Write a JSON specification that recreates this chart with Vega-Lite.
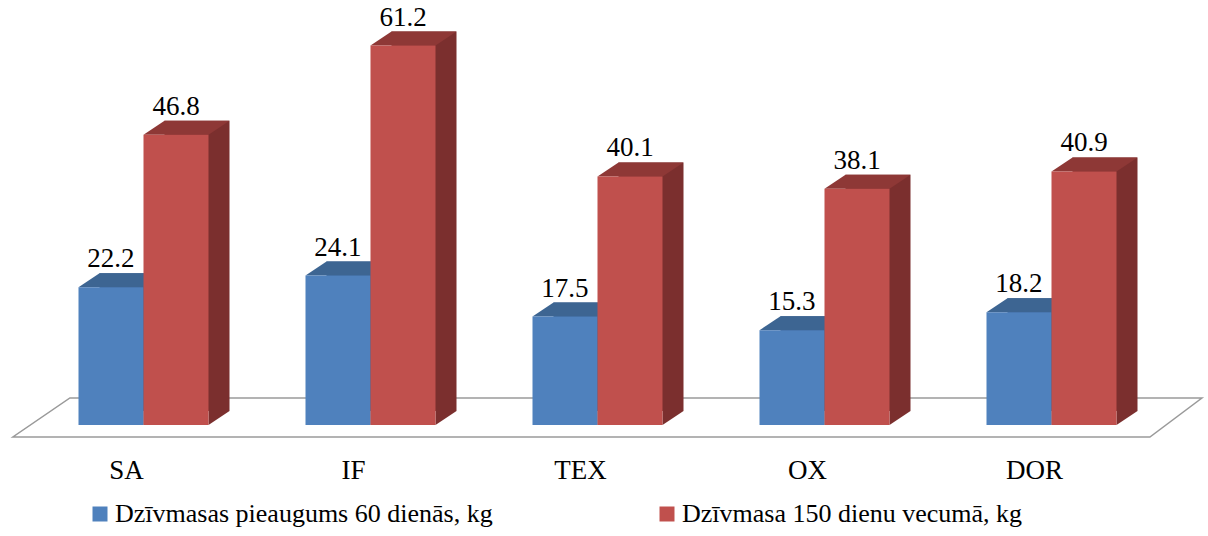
{
  "$schema": "https://vega.github.io/schema/vega-lite/v6.json",
  "width": 1135,
  "height": 403,
  "autosize": {"type": "none"},
  "padding": {"top": 22, "left": 30, "right": 43, "bottom": 111},
  "background": "white",
  "config": {
    "view": {"stroke": null},
    "axis": {"grid": false},
    "legend": {
      "orient": "none",
      "legendX": 57,
      "legendY": 479,
      "direction": "horizontal",
      "symbolType": "square",
      "symbolSize": 225,
      "symbolStrokeWidth": 0,
      "labelFont": "Liberation Serif",
      "labelFontSize": 26,
      "labelColor": "#000000",
      "labelOffset": 2,
      "labelLimit": 600,
      "columnPadding": 161,
      "padding": 0,
      "title": null
    }
  },
  "data": {
    "values": [
      {"animal": "SA", "series": "Dzīvmasas pieaugums 60 dienās, kg", "value": 22.2},
      {"animal": "SA", "series": "Dzīvmasa 150 dienu vecumā, kg", "value": 46.8},
      {"animal": "IF", "series": "Dzīvmasas pieaugums 60 dienās, kg", "value": 24.1},
      {"animal": "IF", "series": "Dzīvmasa 150 dienu vecumā, kg", "value": 61.2},
      {"animal": "TEX", "series": "Dzīvmasas pieaugums 60 dienās, kg", "value": 17.5},
      {"animal": "TEX", "series": "Dzīvmasa 150 dienu vecumā, kg", "value": 40.1},
      {"animal": "OX", "series": "Dzīvmasas pieaugums 60 dienās, kg", "value": 15.3},
      {"animal": "OX", "series": "Dzīvmasa 150 dienu vecumā, kg", "value": 38.1},
      {"animal": "DOR", "series": "Dzīvmasas pieaugums 60 dienās, kg", "value": 18.2},
      {"animal": "DOR", "series": "Dzīvmasa 150 dienu vecumā, kg", "value": 40.9}
    ]
  },
  "encoding": {
    "x": {
      "field": "animal",
      "type": "nominal",
      "sort": ["SA", "IF", "TEX", "OX", "DOR"],
      "scale": {"paddingInner": 0.4273, "paddingOuter": 0.21365},
      "axis": {
        "title": null,
        "domain": false,
        "ticks": false,
        "tickSize": 0,
        "labelAngle": 0,
        "labelFont": "Liberation Serif",
        "labelFontSize": 27,
        "labelColor": "#000000",
        "labelBaseline": "alphabetic",
        "labelPadding": 53,
        "labelOffset": -17
      }
    }
  },
  "layer": [
    {
      "transform": [
        {"filter": {"field": "animal", "equal": "SA"}},
        {"filter": {"field": "series", "equal": "Dzīvmasas pieaugums 60 dienās, kg"}}
      ],
      "mark": {
        "type": "point",
        "shape": "M-130.6,12L1006.4,12L1058.4,-27L-73.6,-27Z",
        "size": 4,
        "filled": false,
        "stroke": "#9a9a9a",
        "strokeWidth": 1.5,
        "opacity": 1
      },
      "encoding": {
        "y": {"datum": 0, "type": "quantitative", "scale": {"domain": [0, 65]}, "axis": null}
      }
    },
    {
      "transform": [{"filter": {"field": "series", "equal": "Dzīvmasas pieaugums 60 dienās, kg"}}],
      "mark": {"type": "bar", "width": 65, "xOffset": -11.5, "yOffset": -14, "y2Offset": -14, "color": "#385D8A"},
      "encoding": {
        "y": {"field": "value", "type": "quantitative", "scale": {"domain": [0, 65]}, "axis": null}
      }
    },
    {
      "transform": [{"filter": {"field": "series", "equal": "Dzīvmasa 150 dienu vecumā, kg"}}],
      "mark": {"type": "bar", "width": 65, "xOffset": 53.5, "yOffset": -14, "y2Offset": -14, "color": "#7B2F2E"},
      "encoding": {
        "y": {"field": "value", "type": "quantitative", "scale": {"domain": [0, 65]}, "axis": null}
      }
    },
    {
      "mark": {"type": "point", "shape": "M32.5,0L53.5,-14L32.5,-14Z", "size": 4, "filled": true, "opacity": 1, "strokeWidth": 0},
      "encoding": {
        "xOffset": {"field": "series", "type": "nominal", "sort": ["Dzīvmasas pieaugums 60 dienās, kg", "Dzīvmasa 150 dienu vecumā, kg"], "scale": {"paddingInner": 0, "paddingOuter": 0}},
        "y": {"datum": 0, "type": "quantitative", "scale": {"domain": [0, 65]}, "axis": null},
        "color": {
          "condition": {"test": "datum.series === 'Dzīvmasas pieaugums 60 dienās, kg'", "value": "#385D8A"},
          "value": "#7B2F2E"
        }
      }
    },
    {
      "mark": {"type": "point", "shape": "M-32.5,0L-11.5,-14L53.5,-14L32.5,0Z", "size": 4, "filled": true, "opacity": 1, "strokeWidth": 0},
      "encoding": {
        "xOffset": {"field": "series", "type": "nominal", "sort": ["Dzīvmasas pieaugums 60 dienās, kg", "Dzīvmasa 150 dienu vecumā, kg"], "scale": {"paddingInner": 0, "paddingOuter": 0}},
        "y": {"field": "value", "type": "quantitative", "scale": {"domain": [0, 65]}, "axis": null},
        "color": {
          "condition": {"test": "datum.series === 'Dzīvmasas pieaugums 60 dienās, kg'", "value": "#3D6592"},
          "value": "#8E3836"
        }
      }
    },
    {
      "mark": {"type": "bar"},
      "encoding": {
        "xOffset": {"field": "series", "type": "nominal", "sort": ["Dzīvmasas pieaugums 60 dienās, kg", "Dzīvmasa 150 dienu vecumā, kg"], "scale": {"paddingInner": 0, "paddingOuter": 0}},
        "y": {"field": "value", "type": "quantitative", "scale": {"domain": [0, 65]}, "axis": null},
        "color": {
          "field": "series",
          "type": "nominal",
          "sort": ["Dzīvmasas pieaugums 60 dienās, kg", "Dzīvmasa 150 dienu vecumā, kg"],
          "scale": {"domain": ["Dzīvmasas pieaugums 60 dienās, kg", "Dzīvmasa 150 dienu vecumā, kg"], "range": ["#4F81BD", "#C0504D"]},
          "legend": {"labelFont": "Liberation Serif", "labelFontSize": 26}
        }
      }
    },
    {
      "mark": {"type": "text", "baseline": "alphabetic", "dy": -20, "font": "Liberation Serif", "fontSize": 27, "color": "#000000"},
      "encoding": {
        "xOffset": {"field": "series", "type": "nominal", "sort": ["Dzīvmasas pieaugums 60 dienās, kg", "Dzīvmasa 150 dienu vecumā, kg"], "scale": {"paddingInner": 0, "paddingOuter": 0}},
        "y": {"field": "value", "type": "quantitative", "scale": {"domain": [0, 65]}, "axis": null},
        "text": {"field": "value", "type": "quantitative", "format": ".1f"}
      }
    }
  ]
}
